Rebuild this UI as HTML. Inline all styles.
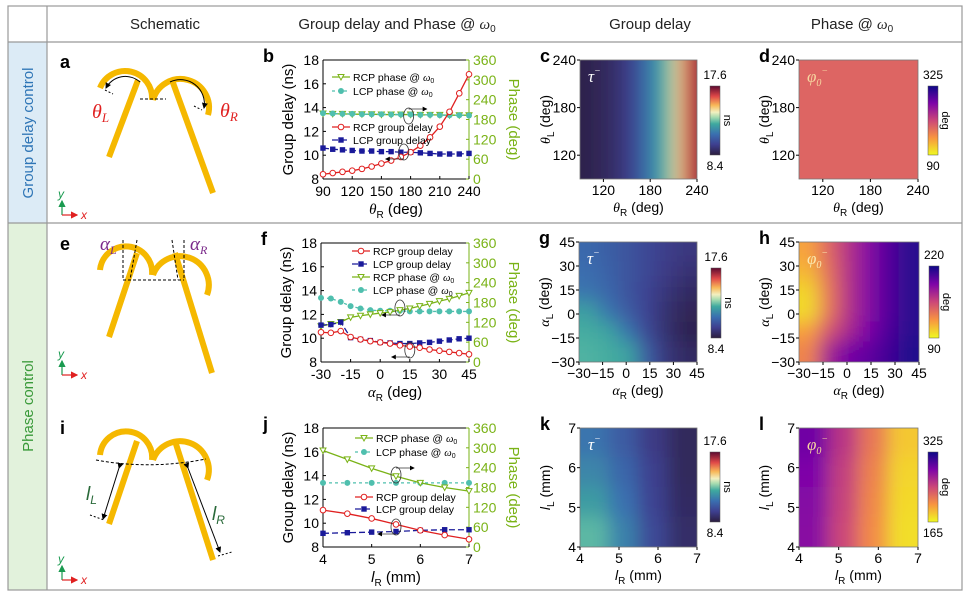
<!DOCTYPE html>
<html><head><meta charset="utf-8"><style>
body{margin:0;background:#fff;}
svg{display:block;font-family:"Liberation Sans",sans-serif;}
</style></head><body>
<svg id="fig" width="969" height="593" viewBox="0 0 969 593" xmlns="http://www.w3.org/2000/svg">
<defs>
<filter id="blur" x="-0.3" y="-0.3" width="1.6" height="1.6"><feGaussianBlur stdDeviation="9" edgeMode="duplicate"/></filter>
<marker id="arr" markerWidth="6" markerHeight="6" refX="5" refY="3" orient="auto"><path d="M0,0L6,3L0,6z" fill="#000"/></marker>
<marker id="arrR" markerWidth="6" markerHeight="6" refX="5" refY="3" orient="auto"><path d="M0,0L6,3L0,6z" fill="#e02020"/></marker>
<marker id="arrG" markerWidth="6" markerHeight="6" refX="5" refY="3" orient="auto"><path d="M0,0L6,3L0,6z" fill="#1a9a50"/></marker>
</defs>
<rect x="8" y="42" width="39" height="181" fill="#dcebf6"/>
<rect x="8" y="223" width="39" height="367" fill="#e2f2dc"/>
<rect x="8" y="6" width="954" height="584" fill="none" stroke="#999" stroke-width="1.2"/>
<line x1="8" y1="42" x2="962" y2="42" stroke="#999" stroke-width="1.2"/>
<line x1="8" y1="223" x2="962" y2="223" stroke="#999" stroke-width="1.2"/>
<line x1="47" y1="6" x2="47" y2="590" stroke="#999" stroke-width="1.2"/>
<g font-size="15" fill="#222" text-anchor="middle">
<text x="165" y="29">Schematic</text>
<text x="397" y="29">Group delay and Phase @ <tspan font-family="Liberation Serif" font-style="italic">ω</tspan><tspan font-size="10" dy="3">0</tspan></text>
<text x="650" y="29">Group delay</text>
<text x="852" y="29">Phase @ <tspan font-family="Liberation Serif" font-style="italic">ω</tspan><tspan font-size="10" dy="3">0</tspan></text>
</g>
<text transform="translate(33,133) rotate(-90)" text-anchor="middle" font-size="15" fill="#2e75b6">Group delay control</text>
<text transform="translate(33,406) rotate(-90)" text-anchor="middle" font-size="15" fill="#3a9a3a">Phase control</text>
<g font-size="18" font-weight="bold" fill="#000">
<text x="60" y="68">a</text>
<text x="60" y="250">e</text>
<text x="60" y="434">i</text>
</g>
<g fill="none" stroke="#f5b800" stroke-width="6">
<path d="M100,88 A27,27 0 0 1 152,100"/><path d="M153,100 A27,27 0 1 1 208,115"/>
<line x1="138" y1="80" x2="109" y2="157"/><line x1="172" y1="80" x2="213" y2="193"/>
</g>
<g fill="none" stroke="#000" stroke-width="1">
<path d="M140,82 A22,22 0 0 0 106,88" marker-end="url(#arr)"/><path d="M170,82 A24,24 0 0 1 204,108" marker-end="url(#arr)"/>
<line x1="140" y1="99" x2="166" y2="99" stroke-dasharray="3,2"/><line x1="105" y1="90" x2="113" y2="94" stroke-dasharray="2,2"/><line x1="194" y1="106" x2="202" y2="110" stroke-dasharray="2,2"/>
</g>
<text x="92" y="118" font-family="Liberation Serif" font-style="italic" font-size="20" fill="#e02020">θ<tspan font-size="13" dy="4">L</tspan></text>
<text x="220" y="117" font-family="Liberation Serif" font-style="italic" font-size="20" fill="#e02020">θ<tspan font-size="13" dy="4">R</tspan></text>

<g fill="none" stroke="#f5b800" stroke-width="6">
<path d="M100,270 A26,26 0 0 1 152,275"/><path d="M153,275 A26,26 0 1 1 207,295"/>
<line x1="137" y1="253" x2="109" y2="337"/><line x1="175" y1="253" x2="212" y2="373"/>
</g>
<g fill="none" stroke="#000" stroke-width="1" stroke-dasharray="3,2">
<line x1="123" y1="240" x2="123" y2="280"/><line x1="137" y1="240" x2="130" y2="280"/>
<line x1="184" y1="240" x2="184" y2="280"/><line x1="172" y1="240" x2="178" y2="280"/>
<line x1="123" y1="280" x2="184" y2="280"/>
</g>
<text x="100" y="250" font-family="Liberation Serif" font-style="italic" font-size="19" fill="#7a2a8a">α<tspan font-size="12" dy="4">L</tspan></text>
<text x="190" y="250" font-family="Liberation Serif" font-style="italic" font-size="19" fill="#7a2a8a">α<tspan font-size="12" dy="4">R</tspan></text>

<g fill="none" stroke="#f5b800" stroke-width="6">
<path d="M100,455 A26,26 0 0 1 152,460"/><path d="M153,460 A26,26 0 1 1 207,480"/>
<line x1="137" y1="441" x2="109" y2="524"/><line x1="175" y1="441" x2="213" y2="560"/>
</g>
<g fill="none" stroke="#000" stroke-width="1">
<path d="M96,460 Q150,470 206,459" stroke-dasharray="3,2"/>
<line x1="119" y1="468" x2="103" y2="519" marker-end="url(#arr)" marker-start="url(#arr)"/>
<line x1="188" y1="468" x2="220" y2="552" marker-end="url(#arr)" marker-start="url(#arr)"/>
<line x1="90" y1="515" x2="104" y2="520" stroke-dasharray="2,2"/><line x1="218" y1="556" x2="232" y2="552" stroke-dasharray="2,2"/>
</g>
<text x="86" y="500" font-style="italic" font-size="19" fill="#2a6a3a">l<tspan font-size="12" dy="4">L</tspan></text>
<text x="212" y="520" font-style="italic" font-size="19" fill="#2a6a3a">l<tspan font-size="12" dy="4">R</tspan></text>
<g id="axesIcons"></g>
<g id="charts"></g>
</svg>
<script>
// ===== line chart data =====
const bX=[90,100,110,120,130,140,150,160,170,180,190,200,210,220,230,240];
const bRcpGD=[8.4,8.5,8.6,8.7,8.85,9.05,9.3,9.55,9.85,10.25,10.8,11.5,12.4,13.65,15.2,16.8];
const bLcpGD=[10.6,10.5,10.45,10.4,10.35,10.35,10.3,10.3,10.25,10.25,10.2,10.15,10.1,10.1,10.1,10.15];
const bRcpPh=[198,197,197,196,196,196,195,195,195,195,194,194,194,193,193,193];
const bLcpPh=[199,198,197,197,196,196,196,195,195,195,194,194,193,193,193,192];
const bXTicks=[90,120,150,180,210,240];

const fX=[-30,-25,-20,-15,-10,-5,0,5,10,15,20,25,30,35,40,45];
const fRcpGD=[10.5,10.45,10.6,10.1,9.9,9.75,9.65,9.55,9.4,9.3,9.2,9.05,8.95,8.85,8.75,8.65];
const fLcpGD=[11.1,11.15,11.35,10.05,9.9,9.8,9.65,9.6,9.55,9.55,9.6,9.65,9.75,9.85,9.95,10.0];
const fRcpPh=[108,115,121,135,140,144,148,151,157,162,169,176,184,191,200,209];
const fLcpPh=[194,192,182,169,162,157,155,155,155,153,153,153,153,153,153,153];
const fXTicks=[-30,-15,0,15,30,45];

const jX=[4,4.5,5,5.5,6,6.5,7];
const jRcpGD=[11.1,10.8,10.4,9.9,9.4,9.0,8.65];
const jLcpGD=[9.15,9.2,9.25,9.3,9.4,9.45,9.45];
const jRcpPh=[292,265,238,214,194,180,169];
const jLcpPh=[194,194,194,194,194,194,194];
const jXTicks=[4,5,6,7];

const gdTicks=[8,10,12,14,16,18];
const phTicks=[0,60,120,180,240,300,360];

// ===== heatmap data =====
const cRow=[8.6,8.7,8.8,8.9,9.1,9.3,9.6,10.0,10.7,11.4,11.9,12.5,13.2,14.5,16.0,16.9];
const cGrid=[cRow,cRow,cRow,cRow];
const dGrid=[[185,185,185,185],[185,185,185,185],[185,185,185,185]];
const gGrid=[[11.0,10.7,10.4,10.0,9.7,9.5],[11.1,10.8,10.4,10.0,9.6,9.3],[11.3,10.9,10.4,9.9,9.4,9.0],
[12.3,11.3,10.6,9.9,9.2,8.8],[12.6,12.4,11.3,10.0,9.2,8.7],[12.7,12.6,12.4,10.6,9.4,9.0]];
const hGrid=[[118,142,165,185,200,212],[112,138,165,185,200,212],[102,135,165,185,200,212],
[100,135,165,185,200,212],[120,150,170,188,202,212],[130,172,190,196,205,214]];
const kGrid=[[11.3,10.6,9.6,8.9],[11.7,10.9,9.8,8.9],[12.2,11.2,9.9,9.0],[12.8,11.6,10.1,9.1]];
const lGrid=[[290,255,220,185],[285,250,215,180],[282,248,212,178],[280,245,210,176]];

const NS='http://www.w3.org/2000/svg';
const root=document.getElementById('charts');
function el(tag,attrs,parent){const e=document.createElementNS(NS,tag);for(const k in attrs)e.setAttribute(k,attrs[k]);(parent||root).appendChild(e);return e;}
function txt(x,y,s,attrs,parent){const t=el('text',Object.assign({x:x,y:y},attrs),parent);t.textContent=s;return t;}

const tauStops=[[0,'#2b1d3f'],[0.15,'#3e3f8f'],[0.3,'#3a6fb0'],[0.45,'#3ea99f'],[0.55,'#a8dcb0'],[0.62,'#f2f0c0'],[0.72,'#f8b858'],[0.85,'#e04848'],[1,'#5c0a30']];
const phStops=[[0,'#f0f921'],[0.25,'#f89540'],[0.5,'#cc4778'],[0.75,'#7e03a8'],[1,'#0d0887']];
function hex(c){return [parseInt(c.substr(1,2),16),parseInt(c.substr(3,2),16),parseInt(c.substr(5,2),16)];}
function cmap(stops,t){t=Math.max(0,Math.min(1,t));for(let i=1;i<stops.length;i++){if(t<=stops[i][0]){const a=hex(stops[i-1][1]),b=hex(stops[i][1]);const f=(t-stops[i-1][0])/(stops[i][0]-stops[i-1][0]);return 'rgb('+a.map((v,k)=>Math.round(v+(b[k]-v)*f)).join(',')+')';}}return stops[stops.length-1][1];}

let gid=0;
function lineChart(o){
  const g=el('g',{});
  
  
  const x0=o.x0,x1=o.x1,y0=o.y0,y1=o.y1;
  const sx=v=>x0+(v-o.xmin)/(o.xmax-o.xmin)*(x1-x0);
  const sy=v=>y1-(v-8)/10*(y1-y0);
  const sp=v=>y1-v/360*(y1-y0);
  const lt=txt(o.x0-60,y0+2,o.letter,{'font-size':18,'font-weight':'bold'},g);
  
  
  el('line',{x1:x0,y1:y0,x2:x0,y2:y1,stroke:'#000','stroke-width':1},g);
  el('line',{x1:x0,y1:y1,x2:x1,y2:y1,stroke:'#000','stroke-width':1},g);
  el('line',{x1:x0,y1:y0,x2:x1,y2:y0,stroke:'#000','stroke-width':1},g);
  el('line',{x1:x1,y1:y0,x2:x1,y2:y1,stroke:'#7ab317','stroke-width':1},g);
  gdTicks.forEach(v=>{el('line',{x1:x0,y1:sy(v),x2:x0+3,y2:sy(v),stroke:'#000'},g);
    const t=txt(x0-4,sy(v)+5,String(v),{'font-size':14,'text-anchor':'end'},g);
    });
  phTicks.forEach(v=>{el('line',{x1:x1,y1:sp(v),x2:x1-3,y2:sp(v),stroke:'#7ab317'},g);
    const t=txt(x1+4,sp(v)+5,String(v),{'font-size':14,fill:'#7ab317'},g);
    });
  o.xticks.forEach(v=>{el('line',{x1:sx(v),y1:y1,x2:sx(v),y2:y1-3,stroke:'#000'},g);
    const t=txt(sx(v),y1+17,String(v),{'font-size':14,'text-anchor':'middle'},g);
    });
  const yt=txt(0,0,'Group delay (ns)',{'font-size':15,'text-anchor':'middle',transform:`translate(${x0-30},${(y0+y1)/2}) rotate(-90)`},g);
  
  const y2t=txt(0,0,'Phase (deg)',{'font-size':15,'text-anchor':'middle',fill:'#7ab317',transform:`translate(${x1+40},${(y0+y1)/2}) rotate(90)`},g);
  
  const xt=el('text',{x:(x0+x1)/2,y:y1+35,'font-size':15,'text-anchor':'middle'},g);
  xt.innerHTML=o.xlabel;
  
  const series=[
   {k:'rcp-phase',ys:o.rcpPh.map(sp),col:'#7ab317',dash:'',mk:'tri',lab:'RCP phase @ '},
   {k:'lcp-phase',ys:o.lcpPh.map(sp),col:'#4fbfae',dash:'3,3',mk:'dot',lab:'LCP phase @ '},
   {k:'rcp-group-delay',ys:o.rcpGD.map(sy),col:'#e02020',dash:'',mk:'dia',lab:'RCP group delay'},
   {k:'lcp-group-delay',ys:o.lcpGD.map(sy),col:'#1a1a9a',dash:'6,3',mk:'sq',lab:'LCP group delay'}];
  function marker(kind,x,y,col,parent){
    let m;
    if(kind==='tri')m=el('path',{d:`M${x-3},${y-2.5}L${x+3},${y-2.5}L${x},${y+3}z`,fill:'#fff',stroke:col,'stroke-width':1},parent);
    else if(kind==='dot')m=el('circle',{cx:x,cy:y,r:3,fill:col},parent);
    else if(kind==='dia')m=el('circle',{cx:x,cy:y,r:2.8,fill:'#fff',stroke:col,'stroke-width':1},parent);
    else m=el('rect',{x:x-2.7,y:y-2.7,width:5.4,height:5.4,fill:col},parent);
    return m;}
  o.order.forEach(i=>{const s=series[i];
    const sg=el('g',{},g);
    
    el('polyline',{points:o.xs.map((x,j)=>sx(x)+','+s.ys[j]).join(' '),fill:'none',stroke:s.col,'stroke-width':1.3,'stroke-dasharray':s.dash},sg);
    o.xs.forEach((x,j)=>{const m=marker(s.mk,sx(x),s.ys[j],s.col,sg);
      });
  });
  o.legend.forEach(L=>{const s=series[L[0]];
    const lg=el('g',{},g);
    
    const ly=L[1];
    el('line',{x1:o.lx,y1:ly,x2:o.lx+18,y2:ly,stroke:s.col,'stroke-width':1.3,'stroke-dasharray':s.dash},lg);
    marker(s.mk,o.lx+9,ly,s.col,lg);
    const t=el('text',{x:o.lx+21,y:ly+4,'font-size':10.5},lg);
    t.innerHTML=s.lab+(s.k.indexOf('phase')>=0?'<tspan font-family="Liberation Serif" font-style="italic">ω</tspan><tspan font-size="7" dy="2">0</tspan>':'');
  });
  o.ell.forEach(e=>{el('ellipse',{cx:sx(e[0]),cy:e[1],rx:5,ry:8,fill:'none',stroke:'#333','stroke-width':0.8},g);
    el('line',{x1:sx(e[0]),y1:e[1]+e[2]*-7,x2:sx(e[0])+e[2]*18,y2:e[1]+e[2]*-7,stroke:'#333','stroke-width':0.8,'marker-end':'url(#arr)'},g);});
}

lineChart({name:'chart-b',letter:'b',x0:323,x1:469,y0:60,y1:179,xmin:90,xmax:240,xs:bX,rcpGD:bRcpGD,lcpGD:bLcpGD,rcpPh:bRcpPh,lcpPh:bLcpPh,xticks:bXTicks,
 xlabel:'<tspan font-family="Liberation Serif" font-style="italic">θ</tspan><tspan font-size="10" dy="4">R</tspan><tspan dy="-4"> (deg)</tspan>',
 order:[0,1,3,2],lx:332,legend:[[0,77],[1,91],[2,127],[3,140]],ell:[[178,116,1],[173,152,-1]]});
lineChart({name:'chart-f',letter:'f',x0:321,x1:469,y0:243,y1:362,xmin:-30,xmax:45,xs:fX,rcpGD:fRcpGD,lcpGD:fLcpGD,rcpPh:fRcpPh,lcpPh:fLcpPh,xticks:fXTicks,
 xlabel:'<tspan font-family="Liberation Serif" font-style="italic">α</tspan><tspan font-size="10" dy="4">R</tspan><tspan dy="-4"> (deg)</tspan>',
 order:[1,0,3,2],lx:352,legend:[[2,251],[3,264],[0,277],[1,290]],ell:[[10,308,-1],[15,350,-1]]});
lineChart({name:'chart-j',letter:'j',x0:323,x1:469,y0:428,y1:547,xmin:4,xmax:7,xs:jX,rcpGD:jRcpGD,lcpGD:jLcpGD,rcpPh:jRcpPh,lcpPh:jLcpPh,xticks:jXTicks,
 xlabel:'<tspan font-style="italic">l</tspan><tspan font-size="10" dy="4">R</tspan><tspan dy="-4"> (mm)</tspan>',
 order:[1,0,3,2],lx:355,legend:[[0,438],[1,452],[2,497],[3,509]],ell:[[5.5,475,1],[5.5,527,-1]]});

function heatmap(o){
  const g=el('g',{});
  
  const lt=txt(o.x0-40,o.y0+2,o.letter,{'font-size':18,'font-weight':'bold'},g);
  
  const rows=o.grid.length,cols=o.grid[0].length;
  const cw=(o.x1-o.x0)/cols,ch=(o.y1-o.y0)/rows;
  const id='clip'+(gid++);
  const cp=el('clipPath',{id:id},g);el('rect',{x:o.x0,y:o.y0,width:o.x1-o.x0,height:o.y1-o.y0},cp);
  const cg=el('g',{'clip-path':`url(#${id})`},g);
  const bg=el('g',{filter:'url(#blur)'},cg);
  const P=30;
  o.grid.forEach((row,r)=>row.forEach((v,c)=>{
    let x=o.x0+c*cw-0.5,y=o.y0+r*ch-0.5,w=cw+1,h=ch+1;
    if(c===0){x-=P;w+=P;} if(c===cols-1){w+=P;}
    if(r===0){y-=P;h+=P;} if(r===rows-1){h+=P;}
    const rc=el('rect',{x:x,y:y,width:w,height:h,fill:cmap(o.stops,(v-o.vmin)/(o.vmax-o.vmin))},bg);
    }));
  el('rect',{x:o.x0,y:o.y0,width:o.x1-o.x0,height:o.y1-o.y0,fill:'none',stroke:'#777','stroke-width':0.8},g);
  const sx=v=>o.x0+(v-o.xr[0])/(o.xr[1]-o.xr[0])*(o.x1-o.x0);
  const sy=v=>o.y1-(v-o.yr[0])/(o.yr[1]-o.yr[0])*(o.y1-o.y0);
  o.xt.forEach(v=>{const t=txt(sx(v),o.y1+16,String(v).replace('-','−'),{'font-size':14,'text-anchor':'middle'},g);
    el('line',{x1:sx(v),y1:o.y1,x2:sx(v),y2:o.y1+3,stroke:'#000'},g);});
  o.yt.forEach(v=>{const t=txt(o.x0-4,sy(v)+5,String(v).replace('-','−'),{'font-size':14,'text-anchor':'end'},g);
    el('line',{x1:o.x0,y1:sy(v),x2:o.x0-3,y2:sy(v),stroke:'#000'},g);});
  const xt=el('text',{x:(o.x0+o.x1)/2,y:o.y1+33,'font-size':14,'text-anchor':'middle'},g);xt.innerHTML=o.xl;
  
  const yt=el('text',{'font-size':14,'text-anchor':'middle',transform:`translate(${o.x0-30},${(o.y0+o.y1)/2}) rotate(-90)`},g);yt.innerHTML=o.yl;
  
  const sym=el('text',{x:o.x0+8,y:o.y0+22,'font-size':17,'font-family':'Liberation Serif','font-style':'italic',fill:o.symCol},g);sym.innerHTML=o.sym;
  
  const gr=el('linearGradient',{id:'cb'+id,x1:0,y1:1,x2:0,y2:0},g);
  o.stops.forEach(s=>el('stop',{offset:s[0],'stop-color':s[1]},gr));
  const cb=el('rect',{x:o.cbx,y:o.cby0,width:10,height:o.cby1-o.cby0,fill:`url(#cb${id})`,stroke:'#555','stroke-width':0.5},g);
  
  txt(o.cbx+5,o.cby0-7,o.cbLabels[1],{'font-size':12,'text-anchor':'middle'},g);
  txt(o.cbx+5,o.cby1+15,o.cbLabels[0],{'font-size':12,'text-anchor':'middle'},g);
  txt(0,0,o.unit,{'font-size':11,'text-anchor':'middle',transform:`translate(${o.cbx+14},${(o.cby0+o.cby1)/2}) rotate(90)`},g);
}
const th=(s)=>`<tspan font-family="Liberation Serif" font-style="italic">θ</tspan><tspan font-size="10" dy="4">${s}</tspan><tspan dy="-4"> (deg)</tspan>`;
const al=(s)=>`<tspan font-family="Liberation Serif" font-style="italic">α</tspan><tspan font-size="10" dy="4">${s}</tspan><tspan dy="-4"> (deg)</tspan>`;
const ll=(s)=>`<tspan font-style="italic">l</tspan><tspan font-size="10" dy="4">${s}</tspan><tspan dy="-4"> (mm)</tspan>`;
const tau='τ<tspan font-size="10" dy="-8">−</tspan>';
const phi='φ<tspan font-size="10" dy="4">0</tspan><tspan font-size="10" dy="-12">−</tspan>';
heatmap({name:'heatmap-c',letter:'c',x0:580,x1:697,y0:60,y1:179,grid:cGrid,stops:tauStops,vmin:8.4,vmax:17.6,xr:[90,240],yr:[90,240],xt:[120,180,240],yt:[120,180,240],xl:th('R'),yl:th('L'),sym:tau,symCol:'#fff',cbx:710,cby0:86,cby1:155,cbLabels:['8.4','17.6'],unit:'ns'});
heatmap({name:'heatmap-d',letter:'d',x0:799,x1:918,y0:60,y1:179,grid:dGrid,stops:phStops,vmin:90,vmax:325,xr:[90,240],yr:[90,240],xt:[120,180,240],yt:[120,180,240],xl:th('R'),yl:th('L'),sym:phi,symCol:'#f6d6a0',cbx:928,cby0:86,cby1:155,cbLabels:['90','325'],unit:'deg'});
heatmap({name:'heatmap-g',letter:'g',x0:579,x1:697,y0:242,y1:362,grid:gGrid,stops:tauStops,vmin:8.4,vmax:17.6,xr:[-30,45],yr:[-30,45],xt:[-30,-15,0,15,30,45],yt:[-30,-15,0,15,30,45],xl:al('R'),yl:al('L'),sym:tau,symCol:'#fff',cbx:711,cby0:268,cby1:338,cbLabels:['8.4','17.6'],unit:'ns'});
heatmap({name:'heatmap-h',letter:'h',x0:799,x1:919,y0:242,y1:362,grid:hGrid,stops:phStops,vmin:90,vmax:220,xr:[-30,45],yr:[-30,45],xt:[-30,-15,0,15,30,45],yt:[-30,-15,0,15,30,45],xl:al('R'),yl:al('L'),sym:phi,symCol:'#fbe8b0',cbx:929,cby0:266,cby1:338,cbLabels:['90','220'],unit:'deg'});
heatmap({name:'heatmap-k',letter:'k',x0:580,x1:697,y0:428,y1:547,grid:kGrid,stops:tauStops,vmin:8.4,vmax:17.6,xr:[4,7],yr:[4,7],xt:[4,5,6,7],yt:[4,5,6,7],xl:ll('R'),yl:ll('L'),sym:tau,symCol:'#fff',cbx:710,cby0:452,cby1:522,cbLabels:['8.4','17.6'],unit:'ns'});
heatmap({name:'heatmap-l',letter:'l',x0:799,x1:918,y0:428,y1:547,grid:lGrid,stops:phStops,vmin:165,vmax:325,xr:[4,7],yr:[4,7],xt:[4,5,6,7],yt:[4,5,6,7],xl:ll('R'),yl:ll('L'),sym:phi,symCol:'#f6d6a0',cbx:928,cby0:452,cby1:522,cbLabels:['165','325'],unit:'deg'});

const ax=document.getElementById('axesIcons');
[[62,215],[62,375],[62,580]].forEach(p=>{
  const ig=el('g',{},ax);
  
  el('line',{x1:p[0],y1:p[1],x2:p[0],y2:p[1]-14,stroke:'#1a9a50','stroke-width':1.2,'marker-end':'url(#arrG)'},ig);
  el('line',{x1:p[0],y1:p[1],x2:p[0]+15,y2:p[1],stroke:'#e02020','stroke-width':1.2,'marker-end':'url(#arrR)'},ig);
  txt(p[0]-4,p[1]-17,'y',{'font-size':12,'font-style':'italic',fill:'#1a9a50'},ig);
  txt(p[0]+19,p[1]+4,'x',{'font-size':12,'font-style':'italic',fill:'#e02020'},ig);
});
</script>
</body></html>
